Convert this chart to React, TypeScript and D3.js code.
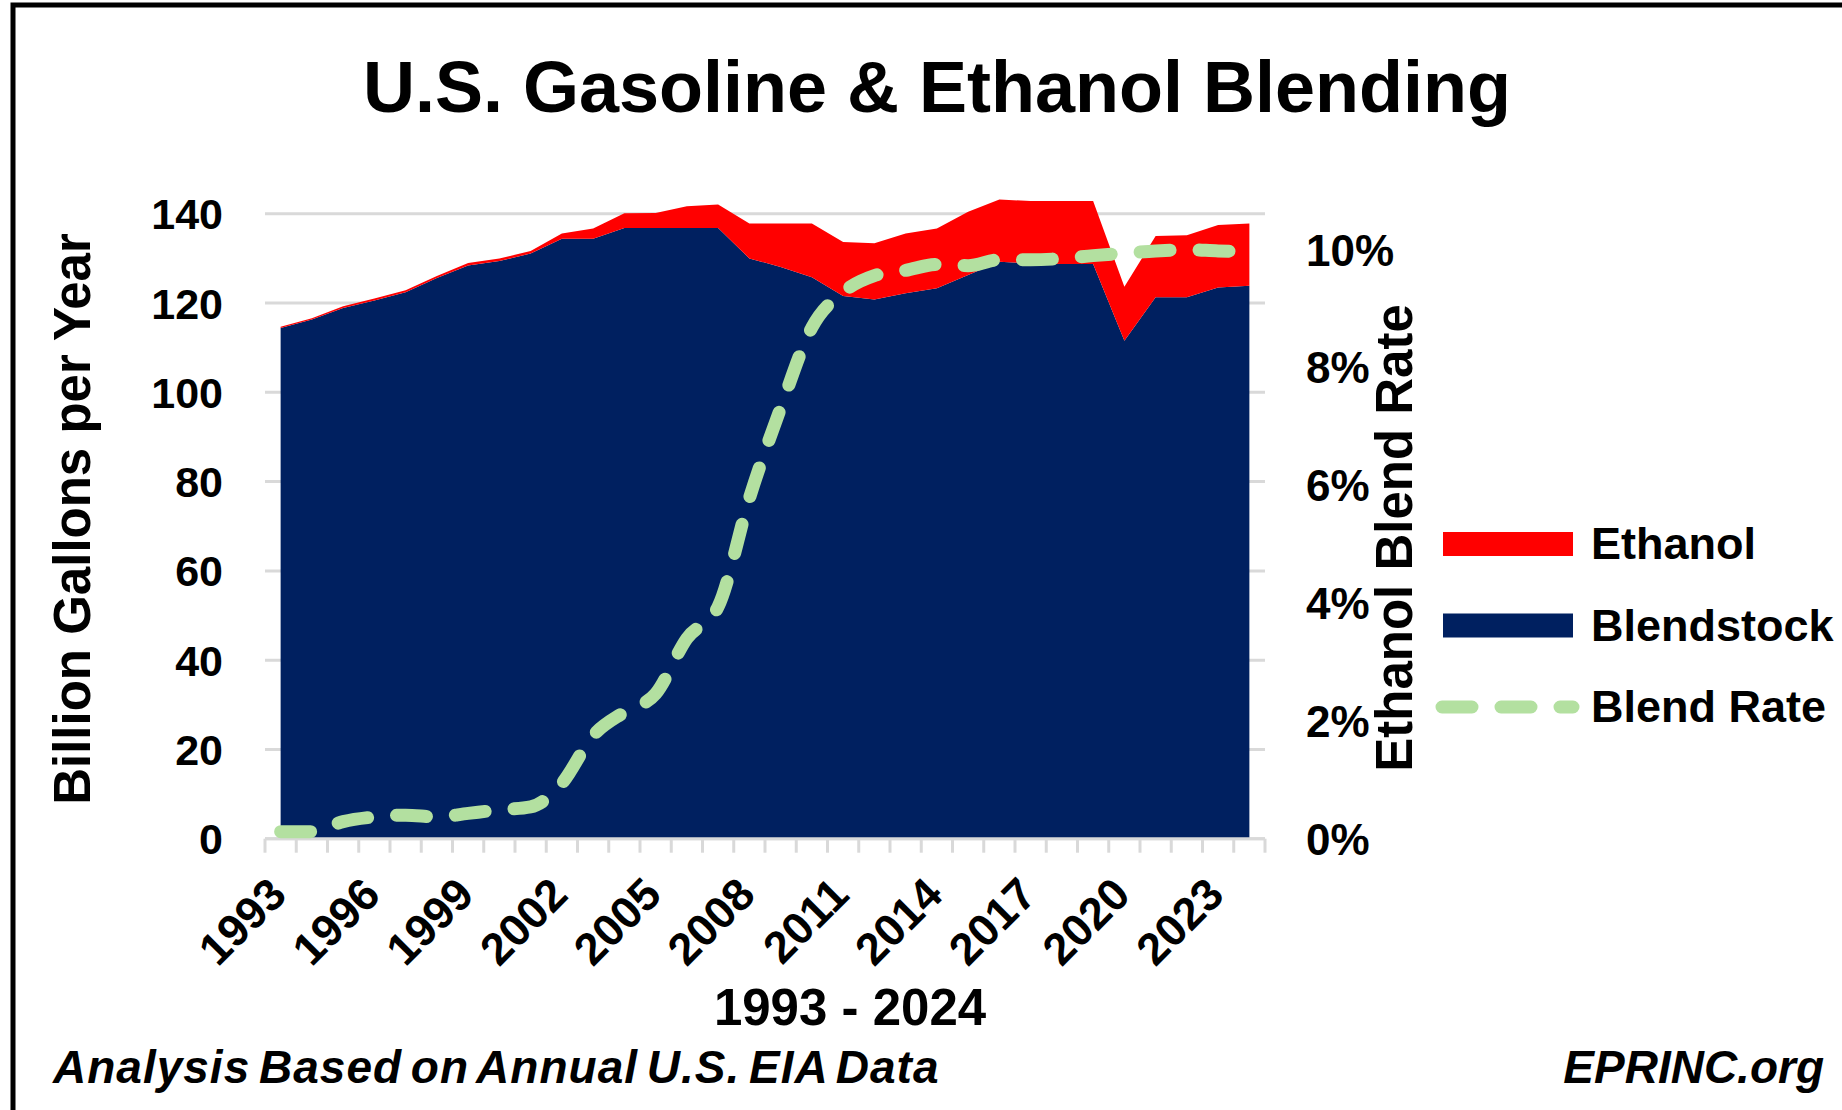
import React from 'react';
import * as d3 from 'd3';

const years = [
  1993, 1994, 1995, 1996, 1997, 1998, 1999, 2000, 2001, 2002, 2003, 2004, 2005, 2006, 2007, 2008,
  2009, 2010, 2011, 2012, 2013, 2014, 2015, 2016, 2017, 2018, 2019, 2020, 2021, 2022, 2023, 2024,
];

// billion gallons per year
const blendstock = [
  114.4, 116.3, 118.9, 120.6, 122.4, 125.6, 128.4, 129.4, 131.1, 134.4, 134.4, 136.8, 136.8, 136.8,
  136.8, 130.0, 128.1, 125.8, 121.6, 120.8, 122.2, 123.3, 126.3, 129.25, 128.9, 128.75, 128.75,
  111.55, 121.3, 121.3, 123.5, 123.9,
];
const ethanol = [
  0.3, 0.3, 0.4, 0.45, 0.5, 0.45, 0.6, 0.6, 0.55, 1.2, 2.3, 3.3, 3.4, 4.9, 5.3, 7.85, 9.75, 12.05,
  12.1, 12.6, 13.4, 13.4, 14.15, 13.95, 13.95, 14.1, 14.1, 12.1, 13.7, 13.9, 14.0, 13.95,
];
// ethanol share of blended gasoline, %
const blendRate = [
  0.12, 0.12, 0.29, 0.37, 0.4, 0.37, 0.43, 0.49, 0.54, 0.94, 1.75, 2.15, 2.46, 3.4, 3.94, 5.78, 7.31,
  8.68, 9.28, 9.56, 9.65, 9.75, 9.73, 9.83, 9.83, 9.85, 9.9, 9.94, 9.98, 10.0, 9.98, 9.97,
];

const leftTicks = [0, 20, 40, 60, 80, 100, 120, 140];
const rightTicks = [0, 2, 4, 6, 8, 10];
const labelYears = [1993, 1996, 1999, 2002, 2005, 2008, 2011, 2014, 2017, 2020, 2023];

const legendItems = [
  { name: 'Ethanol', color: '#FF0000', kind: 'area' },
  { name: 'Blendstock', color: '#002060', kind: 'area' },
  { name: 'Blend Rate', color: '#B3E0A0', kind: 'line' },
];

const FONT = '"Liberation Sans", Arial, sans-serif';
const NAVY = '#002060';
const RED = '#FF0000';
const GREEN = '#B3E0A0';
const GRID = '#D9D9D9';

export default function App() {
  const width = 1842;
  const height = 1110;
  const left = 265;
  const right = 1265;
  const top = 213.8;
  const bottom = 838.7;

  const x = d3.scalePoint<number>().domain(years).range([left, right]).padding(0.5);
  const y = d3.scaleLinear().domain([0, 140]).range([bottom, top]);
  const yR = d3.scaleLinear().domain([0, 10.61]).range([bottom, top]);

  const rows = years.map((yr, i) => ({ year: yr, blendstock: blendstock[i], ethanol: ethanol[i] }));
  const stacked = d3.stack<any>().keys(['blendstock', 'ethanol'])(rows);

  const area = d3
    .area<any>()
    .x((d) => x(d.data.year)!)
    .y0((d) => y(d[0]))
    .y1((d) => y(d[1]));

  const rateLine = d3
    .line<number>()
    .x((_, i) => x(years[i])!)
    .y((d) => yR(d))
    .curve(d3.curveMonotoneX);

  const step = x.step();
  const boundaries = d3.range(years.length + 1).map((i) => left + i * step);

  return (
    <svg
      width={width}
      height={height}
      style={{ position: 'absolute', left: 0, top: 0, background: '#fff' }}
      fontFamily={FONT}
    >
      <rect x={0} y={0} width={width} height={height} fill="#fff" />
      {/* frame of the cropped slide */}
      <rect x={13} y={5} width={width + 20} height={height + 20} fill="none" stroke="#000" strokeWidth={5} />

      <text x={937} y={112} textAnchor="middle" fontSize={72} fontWeight="bold">
        U.S. Gasoline &amp; Ethanol Blending
      </text>

      {/* gridlines */}
      {leftTicks.map((t) => (
        <line key={t} x1={left} x2={right} y1={y(t)} y2={y(t)} stroke={GRID} strokeWidth={3} />
      ))}

      {/* stacked areas */}
      <path d={area(stacked[0] as any)!} fill={NAVY} />
      <path d={area(stacked[1] as any)!} fill={RED} />

      {/* x axis */}
      <line x1={left} x2={right} y1={bottom} y2={bottom} stroke={GRID} strokeWidth={3} />
      {boundaries.map((bx, i) => (
        <line key={i} x1={bx} x2={bx} y1={bottom} y2={bottom + 14} stroke={GRID} strokeWidth={3} />
      ))}

      {/* blend rate */}
      <path
        d={rateLine(blendRate)!}
        fill="none"
        stroke={GREEN}
        strokeWidth={13}
        strokeLinecap="round"
        strokeDasharray="30 29"
      />

      {/* left axis labels */}
      {leftTicks.map((t) => (
        <text
          key={t}
          x={223}
          y={y(t)}
          dy="0.36em"
          textAnchor="end"
          fontSize={43}
          fontWeight="bold"
        >
          {t}
        </text>
      ))}

      {/* right axis labels */}
      {rightTicks.map((t) => (
        <text key={t} x={1306} y={yR(t)} dy="0.36em" textAnchor="start" fontSize={44} fontWeight="bold">
          {`${t}%`}
        </text>
      ))}

      {/* x labels */}
      {labelYears.map((yr) => (
        <text
          key={yr}
          transform={`translate(${x(yr)! + 8},897) rotate(-45)`}
          textAnchor="end"
          fontSize={45}
          fontWeight="bold"
        >
          {yr}
        </text>
      ))}

      <text x={850} y={1025} textAnchor="middle" fontSize={51} fontWeight="bold">
        1993 - 2024
      </text>

      <text transform="translate(90,519) rotate(-90)" textAnchor="middle" fontSize={51} fontWeight="bold">
        Billion  Gallons per Year
      </text>
      <text transform="translate(1412,538) rotate(-90)" textAnchor="middle" fontSize={51} fontWeight="bold">
        Ethanol Blend Rate
      </text>

      {/* legend */}
      {legendItems.map((item, i) => {
        const cy = 544 + i * 81.5;
        return (
          <g key={item.name}>
            {item.kind === 'area' ? (
              <rect x={1443} y={cy - 12} width={130} height={24} fill={item.color} />
            ) : (
              <line
                x1={1442}
                x2={1573}
                y1={cy}
                y2={cy}
                stroke={item.color}
                strokeWidth={13}
                strokeLinecap="round"
                strokeDasharray="30 29"
              />
            )}
            <text x={1591} y={cy + 15} fontSize={45} fontWeight="bold">
              {item.name}
            </text>
          </g>
        );
      })}

      {/* footer */}
      <text
        x={53}
        y={1083}
        fontSize={46}
        fontWeight="bold"
        fontStyle="italic"
        wordSpacing={-5}
        letterSpacing={1}
      >
        Analysis Based on Annual U.S. EIA Data
      </text>
      <text x={1824} y={1083} textAnchor="end" fontSize={46} fontWeight="bold" fontStyle="italic">
        EPRINC.org
      </text>
    </svg>
  );
}
